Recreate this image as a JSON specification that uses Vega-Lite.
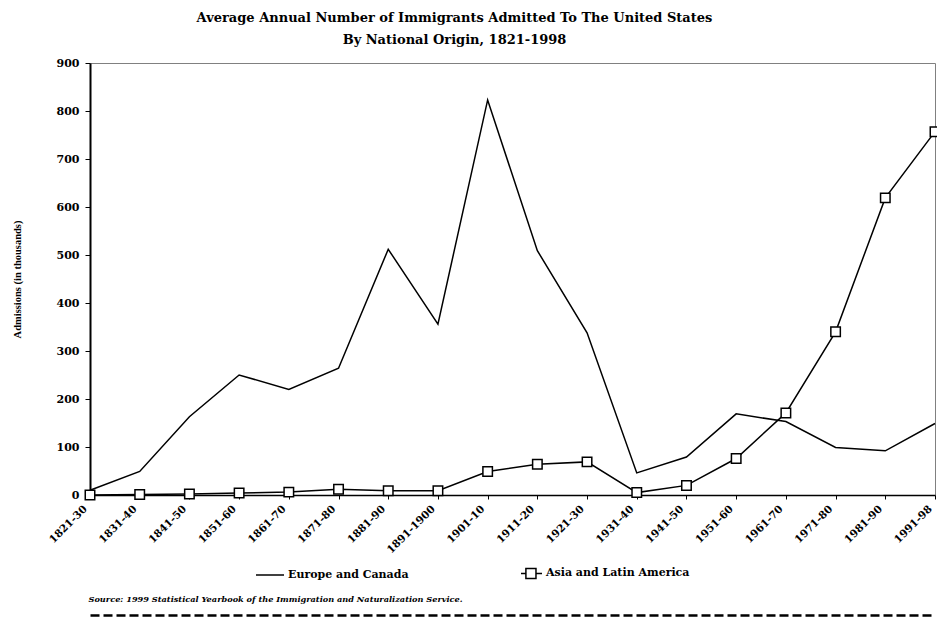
{
  "$schema": "https://vega.github.io/schema/vega-lite/v6.json",
  "width": 845,
  "height": 432,
  "autosize": {"type": "none"},
  "padding": {"left": 90, "top": 63, "right": 2, "bottom": 124},
  "background": "white",
  "config": {"view": {"stroke": "#808080", "strokeWidth": 1}, "font": "DejaVu Serif"},
  "title": {
    "text": ["Average Annual Number of Immigrants Admitted To The United States", "By National Origin, 1821-1998"],
    "font": "DejaVu Serif", "fontSize": 13, "fontWeight": "bold", "color": "black",
    "anchor": "middle", "frame": "group", "dx": -58, "offset": 10, "lineHeight": 22
  },
  "data": {"values": [
    {"period": "1821-30", "series": "Europe and Canada", "value": 10},
    {"period": "1821-30", "series": "Asia and Latin America", "value": 0},
    {"period": "1831-40", "series": "Europe and Canada", "value": 49},
    {"period": "1831-40", "series": "Asia and Latin America", "value": 1},
    {"period": "1841-50", "series": "Europe and Canada", "value": 163},
    {"period": "1841-50", "series": "Asia and Latin America", "value": 2},
    {"period": "1851-60", "series": "Europe and Canada", "value": 250},
    {"period": "1851-60", "series": "Asia and Latin America", "value": 4},
    {"period": "1861-70", "series": "Europe and Canada", "value": 220},
    {"period": "1861-70", "series": "Asia and Latin America", "value": 6},
    {"period": "1871-80", "series": "Europe and Canada", "value": 264},
    {"period": "1871-80", "series": "Asia and Latin America", "value": 12},
    {"period": "1881-90", "series": "Europe and Canada", "value": 512},
    {"period": "1881-90", "series": "Asia and Latin America", "value": 9},
    {"period": "1891-1900", "series": "Europe and Canada", "value": 356},
    {"period": "1891-1900", "series": "Asia and Latin America", "value": 9},
    {"period": "1901-10", "series": "Europe and Canada", "value": 823},
    {"period": "1901-10", "series": "Asia and Latin America", "value": 49},
    {"period": "1911-20", "series": "Europe and Canada", "value": 509},
    {"period": "1911-20", "series": "Asia and Latin America", "value": 64},
    {"period": "1921-30", "series": "Europe and Canada", "value": 338},
    {"period": "1921-30", "series": "Asia and Latin America", "value": 69},
    {"period": "1931-40", "series": "Europe and Canada", "value": 46},
    {"period": "1931-40", "series": "Asia and Latin America", "value": 5},
    {"period": "1941-50", "series": "Europe and Canada", "value": 79},
    {"period": "1941-50", "series": "Asia and Latin America", "value": 20},
    {"period": "1951-60", "series": "Europe and Canada", "value": 169},
    {"period": "1951-60", "series": "Asia and Latin America", "value": 76},
    {"period": "1961-70", "series": "Europe and Canada", "value": 153},
    {"period": "1961-70", "series": "Asia and Latin America", "value": 171},
    {"period": "1971-80", "series": "Europe and Canada", "value": 99},
    {"period": "1971-80", "series": "Asia and Latin America", "value": 340},
    {"period": "1981-90", "series": "Europe and Canada", "value": 92},
    {"period": "1981-90", "series": "Asia and Latin America", "value": 619},
    {"period": "1991-98", "series": "Europe and Canada", "value": 149},
    {"period": "1991-98", "series": "Asia and Latin America", "value": 757}
  ]},
  "resolve": {"axis": {"x": "independent"}},
  "layer": [
    {
      "mark": {"type": "line", "strokeWidth": 1.5},
      "encoding": {
        "x": {
          "field": "period", "type": "ordinal", "sort": null,
          "scale": {"type": "point", "padding": 0},
          "axis": {
            "title": "Source:  1999 Statistical Yearbook of the Immigration and Naturalization Service.",
            "titleFont": "DejaVu Serif", "titleFontSize": 8.2, "titleFontStyle": "italic", "titleFontWeight": "bold",
            "titleColor": "black", "titleAnchor": "start", "titleAlign": "left", "titleX": -2, "titleY": 106,
            "titleBaseline": "alphabetic",
            "labelAngle": -45, "labelAlign": "right", "labelBaseline": "middle", "labelOffset": -5,
            "labelFont": "DejaVu Serif", "labelFontWeight": "bold", "labelFontSize": 10.5,
            "labelColor": "black", "labelPadding": 8,
            "tickSize": 4, "tickColor": "black", "domainColor": "black", "domainWidth": 1.5, "grid": false
          }
        },
        "y": {
          "field": "value", "type": "quantitative",
          "scale": {"domain": [0, 900], "nice": false},
          "axis": {
            "title": "Admissions (in thousands)", "titleFont": "Liberation Serif", "titleFontSize": 10.5,
            "titleFontWeight": "bold", "titleColor": "black", "titlePadding": 34,
            "values": [0, 100, 200, 300, 400, 500, 600, 700, 800, 900],
            "labelFont": "DejaVu Serif", "labelFontWeight": "bold", "labelFontSize": 11, "labelColor": "black",
            "labelPadding": 6, "tickSize": 5, "tickColor": "black", "domainColor": "black", "domainWidth": 2,
            "grid": false
          }
        },
        "color": {
          "field": "series", "type": "nominal",
          "sort": ["Europe and Canada", "Asia and Latin America"],
          "scale": {"range": ["black", "black"]},
          "legend": {
            "orient": "none", "legendX": 165, "legendY": 495, "direction": "horizontal", "title": null,
            "symbolSize": 784, "symbolStrokeWidth": 1.5, "labelFont": "DejaVu Serif", "labelFontWeight": "bold",
            "labelFontSize": 11, "labelColor": "black", "labelOffset": 3, "columnPadding": 104, "padding": 0,
            "labelLimit": 300,
            "encode": {
              "symbols": {
                "update": {
                  "shape": {"signal": "datum.value === 'Asia and Latin America' ? 'M-0.5,0H-0.15M0.57,0H1M-0.15,-0.36H0.57V0.36H-0.15Z' : 'M-1,0H1'"},
                  "fill": {"value": "white"},
                  "stroke": {"value": "black"},
                  "strokeWidth": {"value": 1.5}
                }
              }
            }
          }
        }
      }
    },
    {
      "transform": [{"filter": "datum.series === 'Asia and Latin America'"}],
      "mark": {"type": "point", "shape": "square", "size": 90, "filled": true, "fill": "white", "stroke": "black", "strokeWidth": 1.5, "opacity": 1},
      "encoding": {
        "x": {
          "field": "period", "type": "ordinal", "sort": null,
          "axis": {
            "orient": "bottom", "offset": 120, "labels": false, "ticks": false, "title": null,
            "domainDash": [9, 4], "domainWidth": 2.5, "domainColor": "black", "grid": false
          }
        },
        "y": {"field": "value", "type": "quantitative"}
      }
    }
  ]
}
